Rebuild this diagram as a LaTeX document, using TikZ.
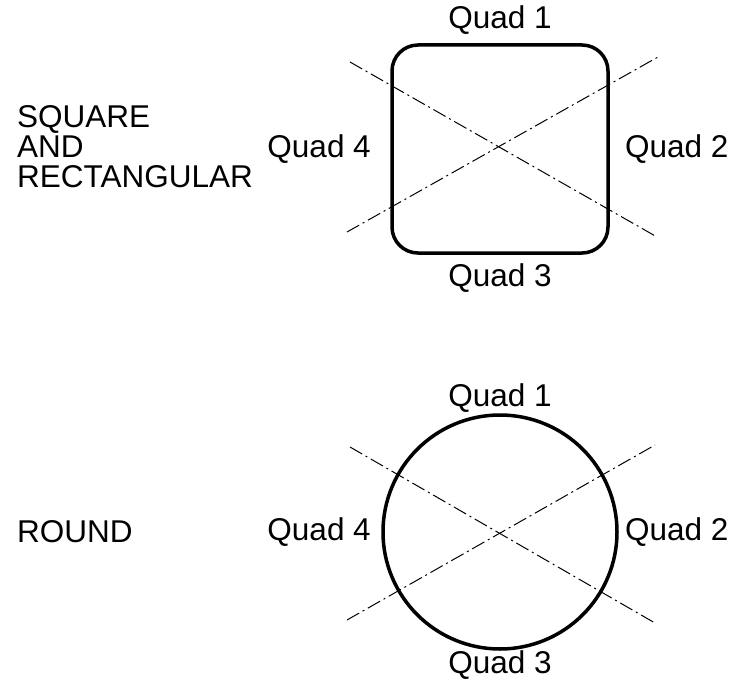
\documentclass[tikz,border=0pt]{standalone}
\usepackage{fontspec}
\setmainfont{Liberation Sans}
\begin{document}
\begin{tikzpicture}[x=1pt,y=-1pt,
        lbl/.style={font=\fontsize{31.5}{30}\selectfont, inner sep=0pt},
        centerline/.style={line width=1pt, dash pattern=on 14pt off 4pt on 2pt off 4pt},
        outline/.style={line width=3.5pt}]
        \useasboundingbox (0,0) rectangle (732,685);
        % square and rectangular
        \draw[outline, rounded corners=26pt] (392,45) rectangle (608,253);
        \coordinate (sqa) at (350,62);
        \coordinate (sqb) at (657,237);
        \coordinate (sqc) at (347,232);
        \coordinate (sqd) at (658,57);
        \draw[centerline] (sqa) -- (sqb);
        \draw[centerline] (sqc) -- (sqd);
        \node[lbl] (sq1) at (500,20) {Quad 1};
        \node[lbl, anchor=west] (sq2) at (625,149) {Quad 2};
        \node[lbl] (sq3) at (500,278) {Quad 3};
        \node[lbl, anchor=east] (sq4) at (371,149) {Quad 4};
        \node[lbl, anchor=west, align=left] (sqname) at (17,147) {SQUARE\\AND\\RECTANGULAR};
        % round
        \draw[outline] (500,532) circle (117);
        \coordinate (rda) at (350,447);
        \coordinate (rdb) at (655,623);
        \coordinate (rdc) at (347,620);
        \coordinate (rdd) at (655,445);
        \draw[centerline] (rda) -- (rdb);
        \draw[centerline] (rdc) -- (rdd);
        \node[lbl] (rd1) at (500,398) {Quad 1};
        \node[lbl, anchor=west] (rd2) at (625,532) {Quad 2};
        \node[lbl] (rd3) at (500,665) {Quad 3};
        \node[lbl, anchor=east] (rd4) at (371,532) {Quad 4};
        \node[lbl, anchor=west] (rdname) at (17,532) {ROUND};
    \end{tikzpicture}
\end{document}
